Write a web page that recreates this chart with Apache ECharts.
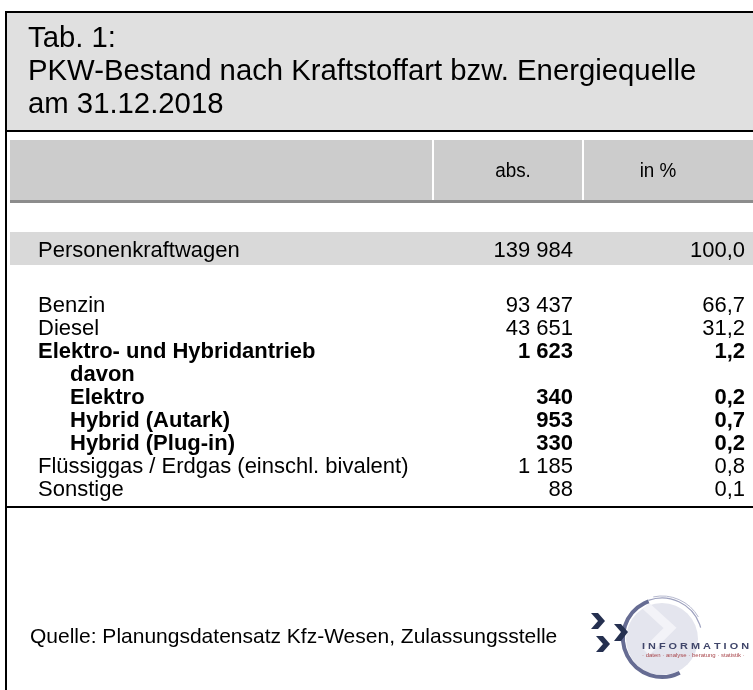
<!DOCTYPE html>
<html>
<head>
<meta charset="utf-8">
<script src="https://cdn.jsdelivr.net/npm/echarts@6/dist/echarts.min.js"></script>
<style>
  html, body { margin: 0; padding: 0; background: #fff; }
  #chart { width: 753px; height: 690px; }
</style>
</head>
<body>
<div id="chart"></div>
<script>
var titleLines = ['Tab. 1:', 'PKW-Bestand nach Kraftstoffart bzw. Energiequelle', 'am 31.12.2018'];
var columnHeads = ['abs.', 'in %'];

var totalLabels = ['Personenkraftwagen'];
var totalAbs = [139984];
var totalPct = [100.0];

var rowLabels = ['Benzin', 'Diesel', 'Elektro- und Hybridantrieb', 'davon', 'Elektro',
  'Hybrid (Autark)', 'Hybrid (Plug-in)', 'Flüssiggas / Erdgas (einschl. bivalent)', 'Sonstige'];
var rowAbs = [93437, 43651, 1623, null, 340, 953, 330, 1185, 88];
var rowPct = [66.7, 31.2, 1.2, null, 0.2, 0.7, 0.2, 0.8, 0.1];
var rowBold = [false, false, true, true, true, true, true, false, false];
var rowIndent = [0, 0, 0, 1, 1, 1, 1, 0, 0];

var sourceNote = 'Quelle: Planungsdatensatz Kfz-Wesen, Zulassungsstelle';

var FONT = '"Liberation Sans", Arial, sans-serif';

function fmtAbs(v) {
  if (v == null) return '';
  return String(v).replace(/\B(?=(\d{3})+(?!\d))/g, ' ');
}
function fmtPct(v) {
  if (v == null) return '';
  return v.toFixed(1).replace('.', ',');
}

function cellText(x, y, text, align, bold, size, sx) {
  return {
    type: 'text', x: x, y: y, scaleX: sx || 1,
    style: {
      text: text, x: 0, y: 0, align: align, verticalAlign: 'middle',
      fontFamily: FONT, fontSize: size || 22, fontWeight: bold ? 'bold' : 'normal', fill: '#000'
    }
  };
}

function rowRenderer(labels, abs, pct, bold, indent, dy) {
  return function (params, api) {
    var i = api.value(1);
    var y = api.coord([0, i])[1] + dy;
    var x0 = params.coordSys.x;
    var b = bold ? bold[i] : false;
    var ind = indent ? indent[i] : 0;
    return {
      type: 'group',
      children: [
        cellText(x0 + 28 + ind * 32, y, labels[i], 'left', b),
        cellText(573, y, fmtAbs(abs[i]), 'right', b),
        cellText(745, y, fmtPct(pct[i]), 'right', b)
      ]
    };
  };
}

var graphics = [
  // title box
  { type: 'rect', shape: { x: 6, y: 12, width: 760, height: 119 },
    style: { fill: '#e0e0e0', stroke: '#000', lineWidth: 2 } },
  { type: 'line', shape: { x1: 6, y1: 12, x2: 6, y2: 700 }, style: { stroke: '#000', lineWidth: 2 } },
  { type: 'line', shape: { x1: 5, y1: 507, x2: 760, y2: 507 }, style: { stroke: '#000', lineWidth: 2 } },
  // header cells
  { type: 'rect', shape: { x: 10, y: 140, width: 422, height: 60 }, style: { fill: '#cccccc' } },
  { type: 'rect', shape: { x: 434, y: 140, width: 148, height: 60 }, style: { fill: '#cccccc' } },
  { type: 'rect', shape: { x: 584, y: 140, width: 170, height: 60 }, style: { fill: '#cccccc' } },
  { type: 'rect', shape: { x: 10, y: 200, width: 744, height: 3 }, style: { fill: '#8c8c8c' } },
  cellText(513, 171, columnHeads[0], 'center', false, 20.5, 0.92),
  cellText(658, 171, columnHeads[1], 'center', false, 20.5, 0.92),
  cellText(30, 637, sourceNote, 'left', false, 21)
];

titleLines.forEach(function (t, k) {
  graphics.push(cellText(28, 39 + k * 33, t, 'left', false, 29.3));
});

// logo
var deg = Math.PI / 180;
graphics.push(
  { type: 'circle', shape: { cx: 662, cy: 639, r: 36 }, style: { fill: '#e4e5ee' } },
  { type: 'polyline', shape: { points: [[646, 606], [670, 628], [646, 652]] },
    style: { stroke: '#f3f3f8', lineWidth: 9, fill: null } },
  { type: 'arc', shape: { cx: 662, cy: 638, r: 39, startAngle: 63 * deg, endAngle: 250 * deg, clockwise: true },
    style: { stroke: '#666c93', lineWidth: 4, fill: null } },
  { type: 'arc', shape: { cx: 662, cy: 638, r: 40, startAngle: 250 * deg, endAngle: 345 * deg, clockwise: true },
    style: { stroke: '#9ea2bf', lineWidth: 1.2, fill: null } },
  { type: 'arc', shape: { cx: 662, cy: 638, r: 42, startAngle: 258 * deg, endAngle: 330 * deg, clockwise: true },
    style: { stroke: '#b6b9cf', lineWidth: 1, fill: null } },
  { type: 'polygon', shape: { points: [[591, 613], [598, 613], [605, 621], [598, 629], [591, 629], [598, 621]] },
    style: { fill: '#253050' } },
  { type: 'polygon', shape: { points: [[614, 624], [621, 624], [628, 632], [621, 641], [614, 641], [621, 632]] },
    style: { fill: '#253050' } },
  { type: 'polygon', shape: { points: [[596, 636], [603, 636], [610, 644], [603, 652], [596, 652], [603, 644]] },
    style: { fill: '#253050' } },
  { type: 'text', x: 642, y: 647, scaleX: 1.28,
    style: { text: 'I N F O R M A T I O N', fontFamily: FONT, fontSize: 8.5, fontWeight: 'bold',
      fill: '#40466a', verticalAlign: 'middle' } },
  { type: 'text', x: 642, y: 656, scaleX: 1.2,
    style: { text: '· daten · analyse · beratung · statistik ·', fontFamily: FONT, fontSize: 5,
      fill: '#a8454a', verticalAlign: 'middle' } }
);

var chart = echarts.init(document.getElementById('chart'));
chart.setOption({
  animation: false,
  graphic: graphics,
  grid: [
    { left: 10, right: 0, top: 232, height: 33, show: true, backgroundColor: '#d9d9d9', borderWidth: 0 },
    { left: 10, right: 0, top: 294.5, height: 207, show: false }
  ],
  xAxis: [
    { type: 'value', gridIndex: 0, min: 0, max: 1, show: false },
    { type: 'value', gridIndex: 1, min: 0, max: 1, show: false }
  ],
  yAxis: [
    { type: 'category', gridIndex: 0, data: totalLabels, inverse: true, show: false },
    { type: 'category', gridIndex: 1, data: rowLabels, inverse: true, show: false }
  ],
  series: [
    { type: 'custom', xAxisIndex: 0, yAxisIndex: 0, silent: true,
      renderItem: rowRenderer(totalLabels, totalAbs, totalPct, null, null, 2.5),
      data: totalLabels.map(function (l, i) { return [0, i]; }) },
    { type: 'custom', xAxisIndex: 1, yAxisIndex: 1, silent: true,
      renderItem: rowRenderer(rowLabels, rowAbs, rowPct, rowBold, rowIndent, 0),
      data: rowLabels.map(function (l, i) { return [0, i]; }) }
  ]
});
</script>
</body>
</html>
